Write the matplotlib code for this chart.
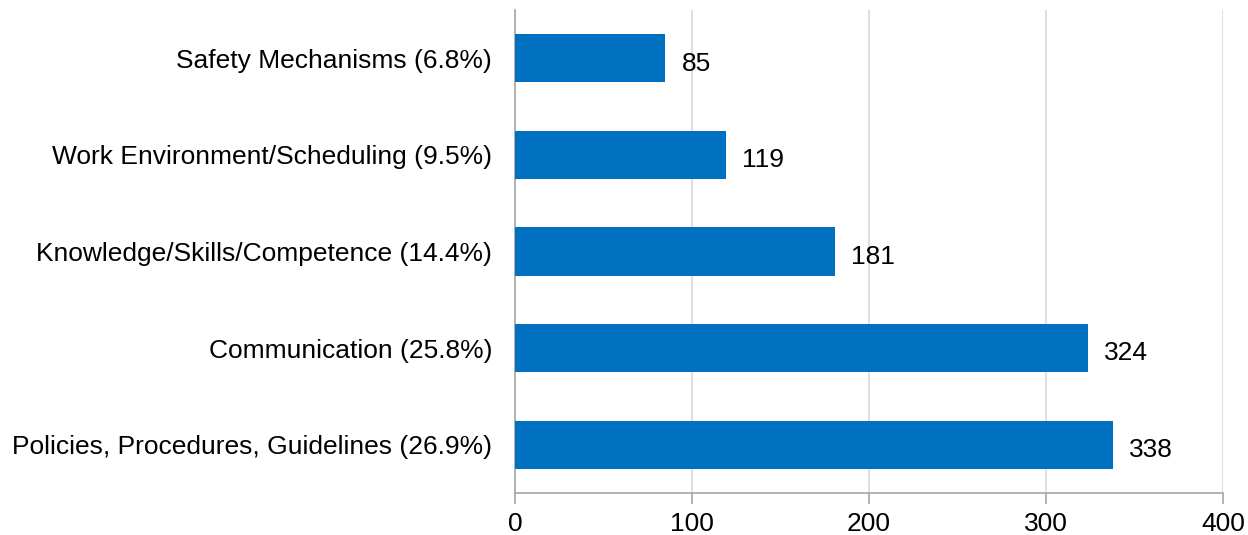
import matplotlib.pyplot as plt

categories = [
    "Policies, Procedures, Guidelines (26.9%)",
    "Communication (25.8%)",
    "Knowledge/Skills/Competence (14.4%)",
    "Work Environment/Scheduling (9.5%)",
    "Safety Mechanisms (6.8%)",
]
counts = [338, 324, 181, 119, 85]
x_ticks = [0, 100, 200, 300, 400]

plt.rcParams["font.family"] = ["Liberation Sans", "DejaVu Sans"]

fig = plt.figure(figsize=(12.48, 5.35), dpi=100)
ax = fig.add_axes([515 / 1248, 42 / 535, 708 / 1248, 483 / 535])

bars = ax.barh(categories, counts, height=0.5, color="#0070C0", zorder=3)
for bar, val in zip(bars, counts):
    ax.annotate(str(val), (bar.get_width(), bar.get_y() + bar.get_height() / 2),
                xytext=(11.5, -2), textcoords="offset points",
                va="center_baseline", ha="left", fontsize=19, color="black")

ax.set_xlim(0, 400)
ax.set_ylim(-0.5, 4.5)
ax.set_xticks(x_ticks)
ax.xaxis.grid(True, color="#d9d9d9", linewidth=1.2, zorder=0)

for side in ["top", "right"]:
    ax.spines[side].set_visible(False)
for side in ["left", "bottom"]:
    ax.spines[side].set_color("#a6a6a6")
    ax.spines[side].set_linewidth(1.2)

ax.tick_params(axis="x", length=8, color="#a6a6a6", width=1.2, labelsize=19, pad=6)
ax.tick_params(axis="y", length=0, labelsize=19, pad=16.5)

fig.savefig("out.png", dpi=100)
plt.close(fig)
